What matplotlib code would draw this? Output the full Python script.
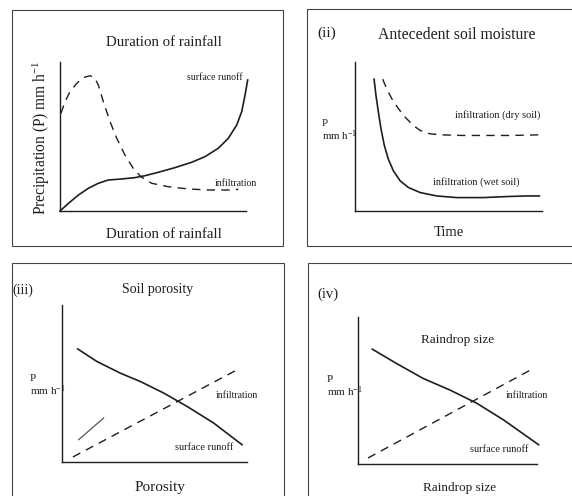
import matplotlib
matplotlib.use("Agg")
import matplotlib.pyplot as plt
from matplotlib.patches import Rectangle

plt.rcParams['font.family'] = ['Liberation Serif', 'DejaVu Serif']
plt.rcParams['mathtext.fontset'] = 'custom'
plt.rcParams['mathtext.rm'] = 'Liberation Serif'
plt.rcParams['mathtext.it'] = 'Liberation Serif:italic'

W, H = 572, 496
INK = '#1e1e1e'

# (i) duration of rainfall
dur_runoff_x = [0, 0.045, 0.099, 0.152, 0.206, 0.260, 0.332, 0.403, 0.457, 0.529,
                0.618, 0.708, 0.780, 0.851, 0.905, 0.950, 0.977, 0.995, 1.009]
dur_runoff_y = [0, 0.051, 0.107, 0.152, 0.186, 0.208, 0.215, 0.224, 0.237, 0.260,
                0.291, 0.327, 0.365, 0.421, 0.488, 0.577, 0.667, 0.779, 0.879]
dur_infil_x = [0.005, 0.027, 0.054, 0.090, 0.125, 0.161, 0.185, 0.206, 0.233, 0.269,
               0.305, 0.349, 0.394, 0.435, 0.493, 0.582, 0.690, 0.797, 0.905, 0.959]
dur_infil_y = [0.655, 0.734, 0.801, 0.857, 0.895, 0.908, 0.895, 0.846, 0.734, 0.600,
               0.488, 0.376, 0.286, 0.230, 0.186, 0.163, 0.148, 0.141, 0.141, 0.145]

# (ii) antecedent soil moisture
wet_x = [0.102, 0.112, 0.125, 0.139, 0.157, 0.178, 0.205, 0.241, 0.285, 0.348,
         0.437, 0.544, 0.686, 0.811, 0.918, 0.986]
wet_y = [0.885, 0.777, 0.664, 0.552, 0.439, 0.349, 0.270, 0.203, 0.158, 0.124,
         0.101, 0.090, 0.090, 0.097, 0.101, 0.101]
dry_x = [0.148, 0.169, 0.196, 0.232, 0.267, 0.312, 0.348, 0.401, 0.463, 0.570,
         0.695, 0.838, 0.980]
dry_y = [0.885, 0.822, 0.755, 0.687, 0.631, 0.574, 0.541, 0.518, 0.511, 0.507,
         0.507, 0.507, 0.511]

# (iii) soil porosity
por_runoff_x = [0.085, 0.189, 0.315, 0.423, 0.550, 0.676, 0.820, 0.973]
por_runoff_y = [0.720, 0.640, 0.566, 0.513, 0.439, 0.354, 0.248, 0.110]
por_infil_x = [0.059, 0.946]
por_infil_y = [0.032, 0.587]
por_stroke_x = [0.090, 0.225]
por_stroke_y = [0.142, 0.280]

# (iv) raindrop size
drop_runoff_x = [0.080, 0.215, 0.364, 0.514, 0.664, 0.813, 1.009]
drop_runoff_y = [0.781, 0.684, 0.582, 0.503, 0.413, 0.300, 0.131]
drop_infil_x = [0.056, 0.963]
drop_infil_y = [0.041, 0.639]


def fx(x):
    return x / W


def fy(y):
    return 1 - y / H


def make_axes(fig, l, t, r, b):
    ax = fig.add_axes([fx(l), fy(b), (r - l) / W, (b - t) / H])
    ax.set_xlim(0, 1)
    ax.set_ylim(0, 1)
    ax.set_xticks([])
    ax.set_yticks([])
    ax.spines[['top', 'right']].set_visible(False)
    for s in ['left', 'bottom']:
        ax.spines[s].set_color(INK)
        ax.spines[s].set_linewidth(1.0)
    ax.patch.set_alpha(0)
    return ax


def txt(fig, x, y, s, size, ha='left', va='center', **kw):
    fig.text(fx(x), fy(y), s, fontsize=size, ha=ha, va=va, color=INK, **kw)


fig = plt.figure(figsize=(W / 100, H / 100), dpi=100)

# panel frames
for (l, t, r, b) in [(12, 10, 283, 246), (307, 9, 580, 246),
                     (12, 263, 284, 505), (308, 263, 580, 505)]:
    fig.patches.append(Rectangle((fx(l), fy(b)), (r - l) / W, (b - t) / H,
                                 transform=fig.transFigure, fill=False,
                                 edgecolor='#444444', linewidth=0.8))

solid = dict(color=INK, lw=1.2, clip_on=False)
dashed = dict(color=INK, lw=1.0, dashes=(6, 4.5), clip_on=False)

# (i)
ax1 = make_axes(fig, 60, 62, 246, 211)
ax1.plot(dur_runoff_x, dur_runoff_y, **solid)
ax1.plot(dur_infil_x, dur_infil_y, **dashed)
txt(fig, 164, 43, 'Duration of rainfall', 10.7, ha='center')
txt(fig, 164, 234, 'Duration of rainfall', 10.7, ha='center')
txt(fig, 41, 138, r'Precipitation (P) mm h$^{-1}$', 11.2, ha='center', rotation=90)
txt(fig, 243, 78, 'surface runoff', 7, ha='right')
txt(fig, 215, 183, 'infiltration', 7)

# (ii)
ax2 = make_axes(fig, 355, 62, 542, 211)
ax2.plot(wet_x, wet_y, **solid)
ax2.plot(dry_x, dry_y, **dashed)
txt(fig, 317, 33, '(ii)', 11)
txt(fig, 457, 35, 'Antecedent soil moisture', 11.3, ha='center')
txt(fig, 540, 115, 'infiltration (dry soil)', 7.5, ha='right')
txt(fig, 433, 182, 'infiltration (wet soil)', 7.5)
txt(fig, 322, 131, 'P\n' + r'mm h$^{-1}$', 7.8, linespacing=1.1)
txt(fig, 449, 233, 'Time', 10.5, ha='center')

# (iii)
ax3 = make_axes(fig, 62, 305, 247, 462)
ax3.plot(por_runoff_x, por_runoff_y, **solid)
ax3.plot(por_infil_x, por_infil_y, **dashed)
ax3.plot(por_stroke_x, por_stroke_y, color='#555555', lw=0.9)
txt(fig, 12, 290, '(iii)', 10)
txt(fig, 158, 289, 'Soil porosity', 10, ha='center')
txt(fig, 258, 395, 'infiltration', 7, ha='right')
txt(fig, 233, 447, 'surface runoff', 7.5, ha='right')
txt(fig, 30, 386, 'P\n' + r'mm h$^{-1}$', 8, linespacing=1.1)
txt(fig, 160, 488, 'Porosity', 11, ha='center')

# (iv)
ax4 = make_axes(fig, 358, 317, 537, 464)
ax4.plot(drop_runoff_x, drop_runoff_y, **solid)
ax4.plot(drop_infil_x, drop_infil_y, **dashed)
txt(fig, 317, 294, '(iv)', 10.5)
txt(fig, 458, 340, 'Raindrop size', 9.5, ha='center')
txt(fig, 548, 395, 'infiltration', 7, ha='right')
txt(fig, 528, 450, 'surface runoff', 7.5, ha='right')
txt(fig, 327, 387, 'P\n' + r'mm h$^{-1}$', 8, linespacing=1.1)
txt(fig, 460, 488, 'Raindrop size', 9.5, ha='center')

fig.savefig('out.png', dpi=100, facecolor='white')
